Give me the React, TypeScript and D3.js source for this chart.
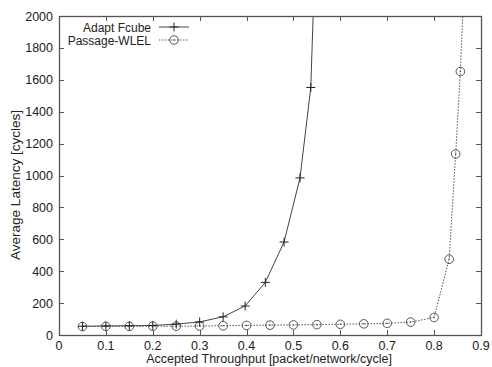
import * as d3 from "d3";
import { useEffect, useRef } from "react";

// Data
const fcubeX = [0.05, 0.1, 0.15, 0.2, 0.25, 0.3, 0.35, 0.397, 0.44, 0.48, 0.514, 0.537, 0.545];
const fcubeY = [55, 57, 58, 60, 68, 82, 114, 182, 330, 583, 985, 1552, 2270];
const wlelX = [0.05, 0.1, 0.15, 0.2, 0.25, 0.3, 0.35, 0.4, 0.45, 0.5, 0.55, 0.6, 0.65, 0.7, 0.75, 0.8, 0.832, 0.846, 0.856, 0.866];
const wlelY = [53, 54, 54, 55, 55, 56, 58, 60, 62, 63, 65, 67, 70, 73, 81, 110, 475, 1135, 1652, 2350];
const xTicks = [0, 0.1, 0.2, 0.3, 0.4, 0.5, 0.6, 0.7, 0.8, 0.9];
const yTicks = [0, 200, 400, 600, 800, 1000, 1200, 1400, 1600, 1800, 2000];
const seriesNames = ["Adapt Fcube", "Passage-WLEL"];

function App() {
  const ref = useRef<SVGSVGElement>(null);
  const width = 492;
  const height = 367;
  const m = { left: 59, right: 481, top: 16, bottom: 335 };

  useEffect(() => {
    const svg = d3.select(ref.current);
    svg.selectAll("*").remove();
    const font = "'Liberation Sans', Arial, sans-serif";
    const axisColor = "#555";

    const x = d3.scaleLinear().domain([0, 0.9]).range([m.left, m.right]);
    const y = d3.scaleLinear().domain([0, 2000]).range([m.bottom, m.top]);

    svg.append("rect").attr("width", width).attr("height", height).attr("fill", "#fff");

    svg
      .append("clipPath")
      .attr("id", "plotclip")
      .append("rect")
      .attr("x", m.left)
      .attr("y", m.top)
      .attr("width", m.right - m.left)
      .attr("height", m.bottom - m.top);

    // ticks (mirrored, inward)
    const tk = 5;
    const g = svg.append("g").attr("stroke", axisColor).attr("stroke-width", 1);
    xTicks.forEach((t) => {
      const px = Math.round(x(t)) + 0.5;
      g.append("line").attr("x1", px).attr("x2", px).attr("y1", m.bottom).attr("y2", m.bottom - tk);
      g.append("line").attr("x1", px).attr("x2", px).attr("y1", m.top).attr("y2", m.top + tk);
    });
    yTicks.forEach((t) => {
      const py = Math.round(y(t)) + 0.5;
      g.append("line").attr("x1", m.left).attr("x2", m.left + tk).attr("y1", py).attr("y2", py);
      g.append("line").attr("x1", m.right).attr("x2", m.right - tk).attr("y1", py).attr("y2", py);
    });

    // tick labels
    svg
      .append("g")
      .selectAll("text")
      .data(xTicks)
      .join("text")
      .attr("x", (d) => x(d))
      .attr("y", m.bottom + 15)
      .attr("text-anchor", "middle")
      .attr("font-family", font)
      .attr("font-size", 12.5)
      .attr("fill", "#222")
      .text((d) => (d === 0 ? "0" : d3.format(".1f")(d)));

    svg
      .append("g")
      .selectAll("text")
      .data(yTicks)
      .join("text")
      .attr("x", m.left - 6)
      .attr("y", (d) => y(d) + 4.5)
      .attr("text-anchor", "end")
      .attr("font-family", font)
      .attr("font-size", 12.5)
      .attr("fill", "#222")
      .text((d) => String(d));

    // axis titles
    svg
      .append("text")
      .attr("x", 269)
      .attr("y", 363)
      .attr("text-anchor", "middle")
      .attr("font-family", font)
      .attr("font-size", 12.5)
      .attr("fill", "#222")
      .text("Accepted Throughput [packet/network/cycle]");

    svg
      .append("text")
      .attr("transform", `translate(20,185) rotate(-90)`)
      .attr("text-anchor", "middle")
      .attr("font-family", font)
      .attr("font-size", 13.5)
      .attr("fill", "#222")
      .text("Average Latency [cycles]");

    const line = d3
      .line<[number, number]>()
      .x((d) => x(d[0]))
      .y((d) => y(d[1]));

    const fcube: [number, number][] = fcubeX.map((v, i) => [v, fcubeY[i]]);
    const wlel: [number, number][] = wlelX.map((v, i) => [v, wlelY[i]]);

    const plot = svg.append("g").attr("clip-path", "url(#plotclip)");

    plot
      .append("path")
      .attr("d", line(fcube))
      .attr("fill", "none")
      .attr("stroke", "#444")
      .attr("stroke-width", 1);

    plot
      .append("path")
      .attr("d", line(wlel))
      .attr("fill", "none")
      .attr("stroke", "#555")
      .attr("stroke-width", 1)
      .attr("stroke-dasharray", "1.5,1.5");

    const plus = (sel: any, cx: number, cy: number) => {
      sel.append("line").attr("x1", cx - 4.5).attr("x2", cx + 4.5).attr("y1", cy).attr("y2", cy).attr("stroke", "#222");
      sel.append("line").attr("x1", cx).attr("x2", cx).attr("y1", cy - 4.5).attr("y2", cy + 4.5).attr("stroke", "#222");
    };
    const circ = (sel: any, cx: number, cy: number) => {
      sel.append("circle").attr("cx", cx).attr("cy", cy).attr("r", 4.3).attr("fill", "none").attr("stroke", "#555").attr("stroke-width", 1);
      sel.append("circle").attr("cx", cx).attr("cy", cy).attr("r", 0.8).attr("fill", "#555");
    };

    wlel.forEach((d) => circ(plot, x(d[0]), y(d[1])));
    fcube.forEach((d) => plus(plot, x(d[0]), y(d[1])));

    // legend
    const lg = svg.append("g");
    const rows = [27, 40];
    seriesNames.forEach((name, i) => {
      lg.append("text")
        .attr("x", 151)
        .attr("y", rows[i] + 4.5)
        .attr("text-anchor", "end")
        .attr("font-family", font)
        .attr("font-size", 12)
        .attr("fill", "#222")
        .text(name);
      const l = lg
        .append("line")
        .attr("x1", 159)
        .attr("x2", 189)
        .attr("y1", rows[i])
        .attr("y2", rows[i])
        .attr("stroke", i === 0 ? "#444" : "#555");
      if (i === 1) l.attr("stroke-dasharray", "1.5,1.5");
      if (i === 0) plus(lg, 174, rows[i]);
      else circ(lg, 174, rows[i]);
    });

    // frame
    svg
      .append("rect")
      .attr("x", m.left + 0.5)
      .attr("y", m.top + 0.5)
      .attr("width", m.right - m.left)
      .attr("height", m.bottom - m.top)
      .attr("fill", "none")
      .attr("stroke", axisColor)
      .attr("stroke-width", 1.3);

    return () => {
      svg.selectAll("*").remove();
    };
  }, []);

  return (
    <svg
      ref={ref}
      width={width}
      height={height}
      style={{ position: "absolute", left: 0, top: 0 }}
    />
  );
}

export default App;
